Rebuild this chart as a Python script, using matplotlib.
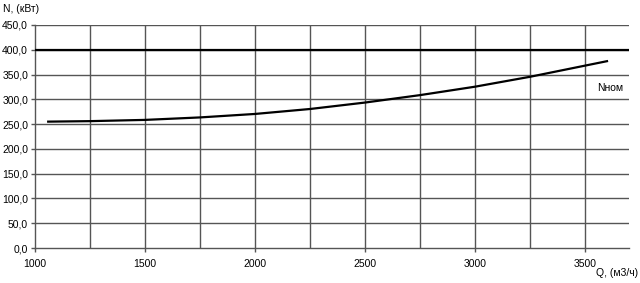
import matplotlib
matplotlib.use('Agg')
import matplotlib.pyplot as plt

plt.rcParams['font.family'] = ['Liberation Sans', 'DejaVu Sans']

# power curve
q = [1060, 1250, 1500, 1750, 2000, 2250, 2500, 2750, 3000, 3250, 3500, 3600]
n = [255, 256, 258.5, 263.5, 270.5, 280.5, 293.5, 308.5, 325.5, 345.5, 368, 377]

# nominal power line
n_max = 400
q_range = [1000, 3700]

x_ticks = [1000, 1500, 2000, 2500, 3000, 3500]
y_ticks = [0, 50, 100, 150, 200, 250, 300, 350, 400, 450]

fig = plt.figure(figsize=(6.4, 2.83), dpi=100)
ax = fig.add_axes([35 / 640, 1 - 248 / 283, (629 - 35) / 640, (248 - 25) / 283])

# grid lines
for x in range(1250, 3700, 250):
    ax.axvline(x, color='#555555', lw=1.0, zorder=1)
for y in y_ticks[1:]:
    ax.axhline(y, color='#555555', lw=1.0, zorder=1)

ax.plot(q_range, [n_max, n_max], color='black', lw=1.6, zorder=3)
ax.plot(q, n, color='black', lw=1.6, zorder=3, solid_joinstyle='round')

ax.set_xlim(q_range)
ax.set_ylim(0, 450)
ax.set_xticks(x_ticks)
ax.set_yticks(y_ticks)
ax.set_yticklabels([f'{v:.1f}'.replace('.', ',') for v in y_ticks])
ax.tick_params(labelsize=7.5, length=3, width=1, color='#555555', pad=2)
ax.tick_params(axis='x', pad=5)

for side in ['top', 'right']:
    ax.spines[side].set_visible(False)
for side in ['left', 'bottom']:
    ax.spines[side].set_color('#555555')
    ax.spines[side].set_linewidth(1.0)

ax.text(3555, 323, 'Nном', fontsize=7.5, va='center', ha='left')
fig.text(3 / 640, 1 - 9 / 283, 'N, (кВт)', fontsize=7.5, va='center', ha='left')
fig.text(638 / 640, 1 - 273 / 283, 'Q, (м3/ч)', fontsize=7.5, va='center', ha='right')

fig.savefig('out.png', dpi=100)
